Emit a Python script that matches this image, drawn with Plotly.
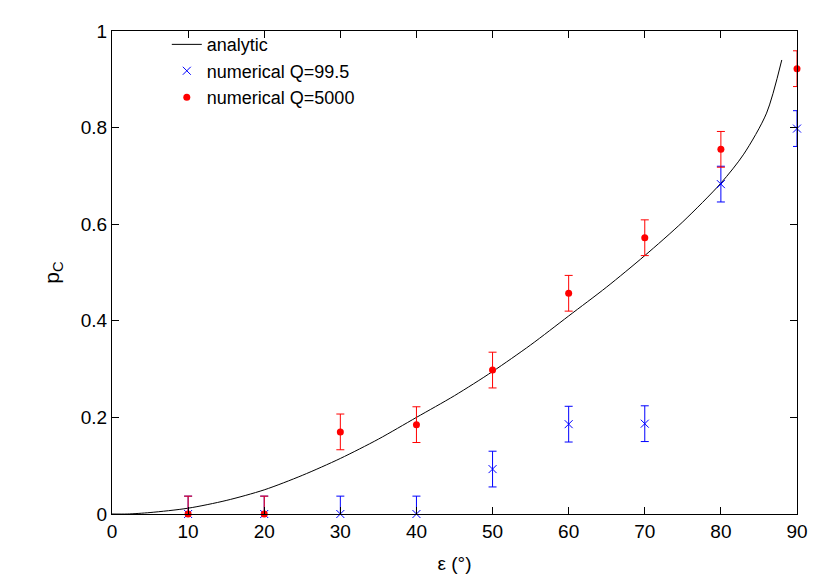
import plotly.graph_objects as go

# analytic curve
ana_x = [0, 2, 5, 10, 15, 20, 25, 30, 35, 40, 45, 50, 55, 60, 65, 70, 75, 80, 83, 86, 88]
ana_y = [0, 0, 0.003, 0.012, 0.028, 0.05, 0.08, 0.115, 0.155, 0.2, 0.245, 0.295,
         0.35, 0.41, 0.47, 0.535, 0.605, 0.685, 0.745, 0.83, 0.94]

eps = [10, 20, 30, 40, 50, 60, 70, 80, 90]
q995 = [0, 0, 0, 0, 0.093, 0.186, 0.187, 0.683, 0.798]
q5000 = [0, 0, 0.17, 0.185, 0.298, 0.457, 0.572, 0.755, 0.922]
err = 0.037

fig = go.Figure()
fig.add_trace(go.Scatter(x=ana_x, y=ana_y, mode="lines", name="analytic",
                         line=dict(color="black", width=1, shape="spline", smoothing=0.8)))
fig.add_trace(go.Scatter(x=eps, y=q995, mode="markers", name="numerical Q=99.5",
                         cliponaxis=False,
                         marker=dict(symbol="x-thin", size=8, color="blue",
                                     line=dict(color="blue", width=1)),
                         error_y=dict(type="constant", value=err, color="blue",
                                      thickness=1, width=4)))
fig.add_trace(go.Scatter(x=eps, y=q5000, mode="markers", name="numerical Q=5000",
                         cliponaxis=False,
                         marker=dict(symbol="circle", size=7, color="red"),
                         error_y=dict(type="constant", value=err, color="red",
                                      thickness=1, width=4)))

ax = dict(showgrid=False, zeroline=False, showline=True, mirror="ticks",
          linecolor="black", ticks="inside", tickcolor="black", ticklen=7,
          tickfont=dict(size=19))
fig.update_xaxes(range=[0, 90], dtick=10, title=dict(text="ε (°)", font=dict(size=19)), **ax)
fig.update_yaxes(range=[0, 1], dtick=0.2, title=dict(text="p<sub>C</sub>", font=dict(size=21)),
                 tickformat="~g", **ax)
fig.update_layout(width=830, height=581, plot_bgcolor="white", paper_bgcolor="white",
                  margin=dict(l=104, r=41, t=23, b=75),
                  font=dict(family="Liberation Sans", color="black"),
                  legend=dict(x=0.08, y=1.01, bgcolor="rgba(0,0,0,0)", font=dict(size=18)))
fig.write_html("out.html")
